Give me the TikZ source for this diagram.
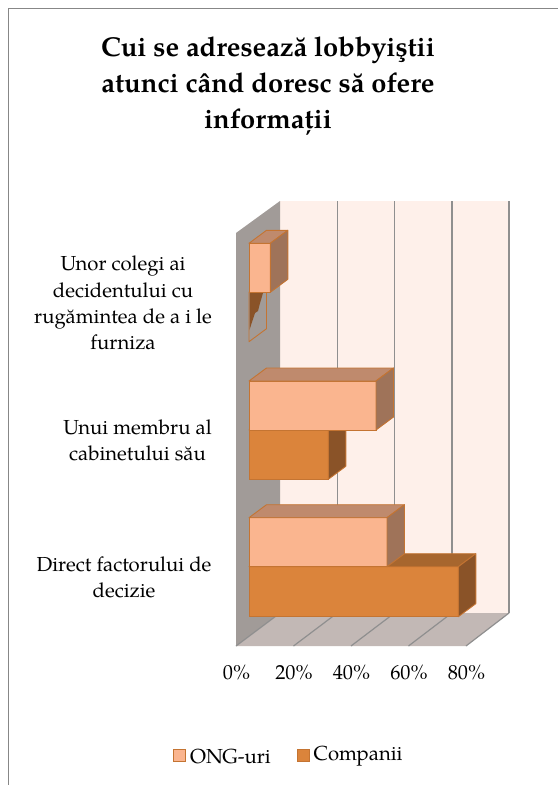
\documentclass[tikz,border=0pt]{standalone}
\usepackage{fontspec}
\setmainfont{TeX Gyre Pagella}
\definecolor{backwall}{HTML}{FEF0EA}
\definecolor{sidewall}{HTML}{A19B98}
\definecolor{floorc}{HTML}{C2B8B5}
\definecolor{gridc}{HTML}{8F8F8F}
\definecolor{ongfront}{HTML}{FAB58F}
\definecolor{ongtop}{HTML}{BF8A6D}
\definecolor{ongside}{HTML}{9F7359}
\definecolor{compfront}{HTML}{DB843B}
\definecolor{comptop}{HTML}{A7662E}
\definecolor{compside}{HTML}{8A5328}
\definecolor{barline}{HTML}{C47432}
\definecolor{framec}{HTML}{878787}
\newcommand{\tdbar}[6]{%
  \filldraw[fill=#4,draw=barline,line width=0.9pt] (249,#2) rectangle (#1,#3);
  \filldraw[fill=#5,draw=barline,line width=0.9pt,line join=round] (249,#2) -- (#1,#2) -- ({#1+17.5},{#2-13}) -- (266.5,{#2-13}) -- cycle;
  \filldraw[fill=#6,draw=barline,line width=0.9pt,line join=round] (#1,#2) -- ({#1+17.5},{#2-13}) -- ({#1+17.5},{#3-13}) -- (#1,#3) -- cycle;
}
\begin{document}
\begin{tikzpicture}[x=1pt,y=-1pt,
  lbl/.style={font=\fontsize{20.3}{26.3}\selectfont, align=center, inner sep=0pt},
  axl/.style={font=\fontsize{20.3}{24}\selectfont, inner sep=0pt},
  gridl/.style={draw=gridc, line width=1.5pt}]
\useasboundingbox (0,0) rectangle (558,785);
\fill[white] (0,0) rectangle (558,785);
\draw[framec, line width=1.6pt] (8.3,785) -- (8.3,8.3) -- (558,8.3);
% title
\node[font=\bfseries\fontsize{27.3}{36}\selectfont, align=center, inner sep=0pt] (title) at (268,86)
  {Cui se adresează lobbyiştii\\atunci când doresc să ofere\\informații};
% walls
\fill[backwall] (280,201) rectangle (509,613);
\fill[sidewall] (236,233) -- (280,201) -- (280,613) -- (236,646) -- cycle;
\fill[floorc] (236,646) -- (466,646) -- (509,613) -- (280,613) -- cycle;
\foreach \k in {1,...,4} {
  \draw[gridl] ({280+57.25*\k},201) -- ({280+57.25*\k},613);
}
\foreach \k in {0,...,4} {
  \draw[draw=gridc, line width=1.2pt] ({236+57.5*\k},646) -- ({280+57.25*\k},613);
}
% bars: top group
\filldraw[fill=none,draw=barline,line width=0.9pt,line join=round] (249,292.3) -- (266.5,279.3) -- (266.5,328.7) -- (249,341.7) -- cycle;
\fill[compside] (249.5,293) -- (263,293) -- (259.5,305) -- (258,311) -- (255,313) -- (252,322) -- (249.5,330) -- cycle;
\tdbar{270.3}{243.3}{292.3}{ongfront}{ongtop}{ongside}
% middle group
\tdbar{328.3}{430}{479.3}{compfront}{comptop}{compside}
\tdbar{376}{381}{430}{ongfront}{ongtop}{ongside}
% bottom group
\tdbar{458.3}{566.7}{616.7}{compfront}{comptop}{compside}
\tdbar{387}{517.7}{566.7}{ongfront}{ongtop}{ongside}
% category labels
\node[lbl] (c1) at (123,303) {Unor colegi ai\\decidentului cu\\rugămintea de a i le\\furniza};
\node[lbl] (c2) at (137.5,440) {Unui membru al\\cabinetului său};
\node[lbl] (c3) at (124,577) {Direct factorului de\\decizie};
% axis labels
\foreach \v [count=\i from 0] in {0,20,40,60,80} {
  \node[axl] (ax\i) at ({236.5+57.5*\i},672) {\v\%};
}
% legend
\filldraw[fill=ongfront, draw=barline, line width=1pt] (173,749) rectangle (185.3,761.5);
\node[axl, anchor=west] (l1) at (190,756) {ONG-uri};
\filldraw[fill=compfront, draw=barline, line width=1pt] (297,749) rectangle (309.3,761.5);
\node[axl, anchor=west] (l2) at (313.5,756) {Companii};
\end{tikzpicture}
\end{document}
